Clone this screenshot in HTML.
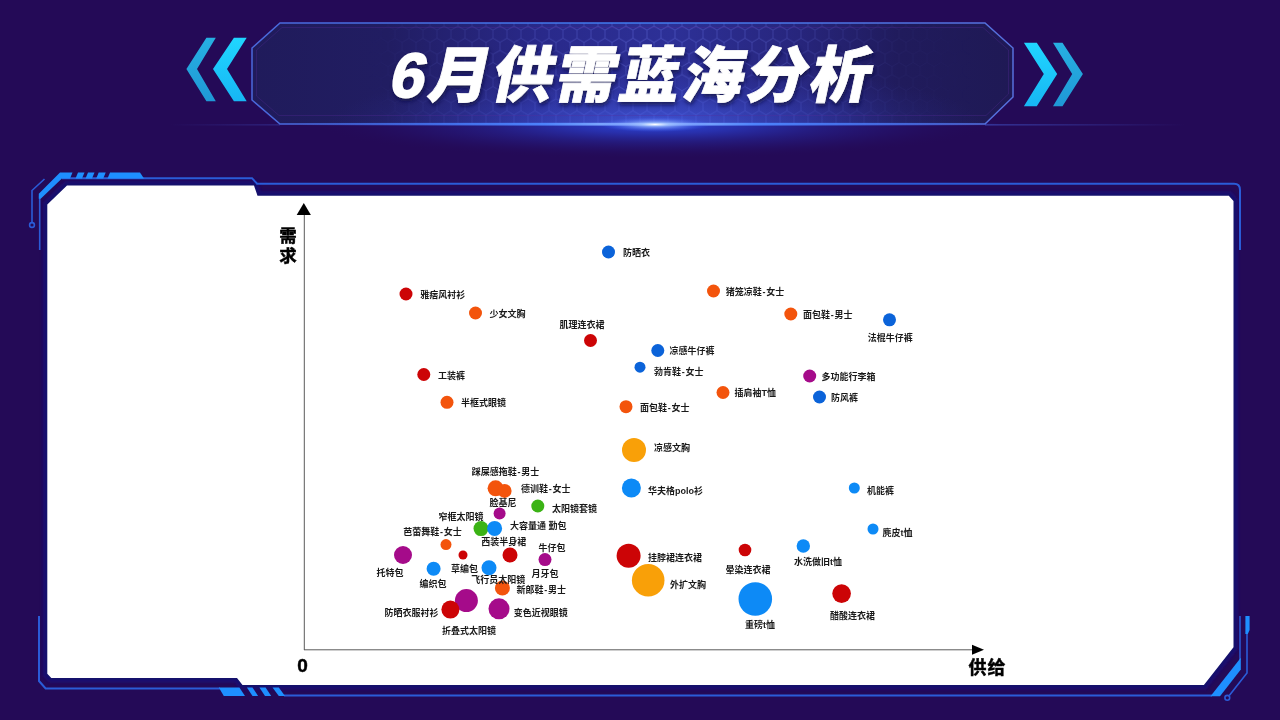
<!DOCTYPE html>
<html lang="zh-CN">
<head>
<meta charset="utf-8">
<title>6月供需蓝海分析</title>
<style>
html,body{margin:0;padding:0;background:#240a57;}
body{width:1280px;height:720px;overflow:hidden;position:relative;font-family:"Liberation Sans","Noto Sans CJK SC",sans-serif;}
svg{position:absolute;left:0;top:0;display:block}
text{font-family:"Liberation Sans","Noto Sans CJK SC",sans-serif;}
.lb text{font-size:9px;font-weight:700;fill:#1a1a1a;}
.ax{font-size:18px;font-weight:700;fill:#000;stroke:#000;stroke-width:0.45px;}
.title{font-family:"Liberation Sans","Noto Sans CJK SC",sans-serif;font-weight:900;font-size:61px;fill:#fff;stroke:#fff;stroke-width:0.7px;stroke-linejoin:miter;letter-spacing:2.5px}
</style>
</head>
<body>
<svg width="1280" height="720" viewBox="0 0 1280 720">
<defs>
<linearGradient id="bn" x1="0" x2="1" y1="0" y2="0">
<stop offset="0" stop-color="#201b5b"/><stop offset="0.18" stop-color="#211d62"/><stop offset="0.38" stop-color="#29298a"/><stop offset="0.55" stop-color="#2d3097"/><stop offset="0.72" stop-color="#27257c"/><stop offset="0.85" stop-color="#201b5c"/><stop offset="1" stop-color="#1f1955"/>
</linearGradient>
<radialGradient id="bnv" gradientUnits="userSpaceOnUse" cx="655" cy="128" r="330" gradientTransform="translate(655 128) scale(1 0.2) translate(-655 -128)">
<stop offset="0" stop-color="#4a66f0" stop-opacity="0.75"/><stop offset="0.5" stop-color="#3a4cd0" stop-opacity="0.35"/><stop offset="1" stop-color="#2d3097" stop-opacity="0"/>
</radialGradient>
<linearGradient id="bst" x1="0" x2="1" y1="0" y2="0">
<stop offset="0" stop-color="#4a68dc"/><stop offset="0.5" stop-color="#3f7cf0"/><stop offset="1" stop-color="#566fdc"/>
</linearGradient>
<radialGradient id="glow" gradientUnits="userSpaceOnUse" cx="655" cy="125" r="340" gradientTransform="translate(655 125) scale(1 0.1) translate(-655 -125)">
<stop offset="0" stop-color="#2c48e0" stop-opacity="0.95"/><stop offset="0.25" stop-color="#2a40d0" stop-opacity="0.7"/><stop offset="0.5" stop-color="#2634b8" stop-opacity="0.4"/><stop offset="0.75" stop-color="#2428a0" stop-opacity="0.15"/><stop offset="1" stop-color="#240a57" stop-opacity="0"/>
</radialGradient>
<radialGradient id="flare" cx="0.5" cy="0.5" r="0.5">
<stop offset="0" stop-color="#ffffff" stop-opacity="1"/><stop offset="0.25" stop-color="#9fc0ff" stop-opacity="0.8"/><stop offset="1" stop-color="#3a60ff" stop-opacity="0"/>
</radialGradient>
<linearGradient id="line" x1="0" x2="1" y1="0" y2="0">
<stop offset="0" stop-color="#3a6cff" stop-opacity="0"/><stop offset="0.35" stop-color="#4f86ff" stop-opacity="0.9"/><stop offset="0.5" stop-color="#a8c8ff" stop-opacity="1"/><stop offset="0.65" stop-color="#4f86ff" stop-opacity="0.9"/><stop offset="1" stop-color="#3a6cff" stop-opacity="0"/>
</linearGradient>
<linearGradient id="fl2" x1="0" x2="1" y1="0" y2="0"><stop offset="0" stop-color="#4a6cf0" stop-opacity="0.4"/><stop offset="1" stop-color="#4a6cf0" stop-opacity="0"/></linearGradient>
<linearGradient id="fl3" x1="0" x2="1" y1="0" y2="0"><stop offset="0" stop-color="#4a6cf0" stop-opacity="0"/><stop offset="1" stop-color="#4a6cf0" stop-opacity="0.22"/></linearGradient>
<linearGradient id="ch1" x1="0" x2="0" y1="0" y2="1"><stop offset="0" stop-color="#20d6ff"/><stop offset="1" stop-color="#17b6f4"/></linearGradient>
<linearGradient id="ch2" x1="0" x2="0" y1="0" y2="1"><stop offset="0" stop-color="#27b0e2"/><stop offset="1" stop-color="#1f98d6"/></linearGradient>
<pattern id="hex" width="14" height="24.2" patternUnits="userSpaceOnUse" patternTransform="translate(3 2)">
<path d="M0 4.03 L7 0 L14 4.03 M0 4.03 L0 12.1 M14 4.03 L14 12.1 M0 12.1 L7 16.13 L14 12.1 M7 16.13 L7 24.2" fill="none" stroke="#7f8cff" stroke-opacity="0.3" stroke-width="1"/>
</pattern>
<linearGradient id="hexfade" x1="0" x2="1" y1="0" y2="0">
<stop offset="0.15" stop-color="#fff" stop-opacity="0"/><stop offset="0.32" stop-color="#fff" stop-opacity="0.6"/><stop offset="0.5" stop-color="#fff" stop-opacity="1"/><stop offset="0.68" stop-color="#fff" stop-opacity="0.8"/><stop offset="0.85" stop-color="#fff" stop-opacity="0.15"/><stop offset="0.95" stop-color="#fff" stop-opacity="0"/>
</linearGradient>
<mask id="hexmask"><rect x="252" y="23" width="761" height="101" fill="url(#hexfade)"/></mask>
<filter id="pg" x="-2%" y="-4%" width="104%" height="108%"><feGaussianBlur stdDeviation="1.6"/></filter>
<filter id="ts" x="-5%" y="-20%" width="110%" height="150%"><feDropShadow dx="1" dy="3" stdDeviation="2.2" flood-color="#0a0a40" flood-opacity="0.75"/></filter>
</defs>

<!-- glow under banner -->
<ellipse cx="655" cy="125" rx="340" ry="34" fill="url(#glow)"/>

<!-- banner -->
<path id="bp" d="M280 23 L985 23 L1013 48 L1013 97 L985 124 L280 124 L252 100 L252 48 Z" fill="url(#bn)"/>
<path d="M280 23 L985 23 L1013 48 L1013 97 L985 124 L280 124 L252 100 L252 48 Z" fill="url(#hex)" mask="url(#hexmask)"/>
<path d="M280 23 L985 23 L1013 48 L1013 97 L985 124 L280 124 L252 100 L252 48 Z" fill="url(#bnv)"/>
<path d="M280 23 L985 23 L1013 48 L1013 97 L985 124 L280 124 L252 100 L252 48 Z" fill="none" stroke="url(#bst)" stroke-width="1.5"/>
<path d="M282 27.5 L983 27.5 L1008.5 50 L1008.5 94 L986 115.5 L279 115.5 L256.5 96 L256.5 50 Z" fill="none" stroke="#5a2a9a" stroke-opacity="0.3" stroke-width="1"/>
<rect x="300" y="122.8" width="700" height="2.8" fill="url(#line)"/>
<ellipse cx="655" cy="124.5" rx="56" ry="7.5" fill="url(#flare)"/>

<rect x="985" y="124" width="200" height="1.6" fill="url(#fl2)"/>
<rect x="170" y="124" width="110" height="1.6" fill="url(#fl3)"/>
<!-- chevrons -->
<path d="M206.4 37.8 L215.8 37.8 L197 69 L215.8 101.2 L206.4 101.2 L186.4 69 Z" fill="url(#ch2)"/>
<path d="M233.9 37.8 L246.7 37.8 L227 69 L246.7 101.2 L233.9 101.2 L213 69 Z" fill="url(#ch1)"/>
<path d="M1023.9 42.8 L1036.8 42.8 L1057.2 74 L1036.8 106.2 L1023.9 106.2 L1043.8 74 Z" fill="url(#ch1)"/>
<path d="M1053 42.8 L1062.5 42.8 L1082.9 74 L1062.5 106.2 L1053 106.2 L1072.2 74 Z" fill="url(#ch2)"/>

<!-- title -->
<g filter="url(#ts)"><text class="title" transform="translate(628 96.5) skewX(-12)" text-anchor="middle" x="0" y="0"><tspan dx="1" style="font-size:63px;stroke-width:1.6px">6</tspan><tspan dx="1">月供需蓝海分析</tspan></text></g>

<!-- frame -->
<path d="M67 185.6 L254 185.6 L257.5 195.8 L1228.8 195.8 L1233.5 201 L1233.5 647.3 L1203.9 685.1 L242.5 685.1 L237 677.9 L51.3 677.9 L47.3 673.8 L47.3 204.4 Z" fill="none" stroke="#151078" stroke-width="9" stroke-linejoin="miter" filter="url(#pg)" opacity="0.8"/>
<g fill="none" stroke="#2a5cd8" stroke-width="1.6">
<path d="M44.5 179 L32 190.5 L32 222"/>
<circle cx="32" cy="225" r="2.4"/>
<path d="M39.7 250 L39.7 196"/>
<path d="M62 178.2 L252 178.2 L257 183.7 L1234 183.7 Q1240 183.7 1240 190 L1240 250" stroke-width="2"/>
<path d="M39 616 L39 681 L45.6 688.5 L220 688.5" stroke-width="2"/>
<path d="M284 695.6 L1212 695.6" stroke-width="2"/>
<path d="M1240 616 L1240 660" stroke-width="1.5"/>
<path d="M1247 632 L1247 673 L1229.3 695.6"/>
<circle cx="1227.3" cy="697.8" r="2.4"/>
</g>
<g fill="#1e8fff">
<path d="M60 172.5 L72.5 172.5 L70 178.5 L61.9 178.5 L40.7 198.8 L38.8 198.8 L38.8 193.8 Z"/>
<path d="M78 172.5 L84.5 172.5 L82 178.5 L75.5 178.5 Z"/>
<path d="M88 172.5 L94.5 172.5 L92 178.5 L85.5 178.5 Z"/>
<path d="M98.7 172.5 L105.7 172.5 L103.2 178.5 L96.2 178.5 Z"/>
<path d="M110 172.5 L140 172.5 L144 178.5 L107.5 178.5 Z"/>
<path d="M218.8 687.5 L239.4 687.5 L245 696 L223.8 696 Z"/>
<path d="M246.9 687.5 L252.5 687.5 L258.1 696 L252.5 696 Z"/>
<path d="M259.4 687.5 L265.6 687.5 L271.2 696 L265 696 Z"/>
<path d="M272.5 687.5 L278.8 687.5 L285 696 L278.8 696 Z"/>
<path d="M1240.8 657.8 L1240.8 669.4 L1220 696.3 L1210.5 696.3 Z"/>
<path d="M1245.4 616 L1249.6 616 L1249.6 630 L1247.8 634 L1245.4 634 Z"/>
</g>

<!-- white panel -->
<path d="M67 185.6 L254 185.6 L257.5 195.8 L1228.8 195.8 L1233.5 201 L1233.5 647.3 L1203.9 685.1 L242.5 685.1 L237 677.9 L51.3 677.9 L47.3 673.8 L47.3 204.4 Z" fill="#fff" stroke="#15116c" stroke-width="4" stroke-linejoin="miter"/>
<path d="M67 185.6 L254 185.6 L257.5 195.8 L1228.8 195.8 L1233.5 201 L1233.5 647.3 L1203.9 685.1 L242.5 685.1 L237 677.9 L51.3 677.9 L47.3 673.8 L47.3 204.4 Z" fill="#fff"/>

<!-- axes -->
<g stroke="#5a5a5a" stroke-width="1" fill="none">
<path d="M304.3 214 L304.3 650"/>
<path d="M304 649.8 L973 649.8"/>
</g>
<path d="M303.8 203 L310.9 215 L296.7 215 Z" fill="#000"/>
<path d="M984 649.8 L972 644.8 L972 654.8 Z" fill="#000"/>
<text class="ax" x="288" y="242.3" text-anchor="middle" style="font-size:17.5px">需</text>
<text class="ax" x="288" y="261.5" text-anchor="middle" style="font-size:17.5px">求</text>
<text class="ax" x="987.4" y="674" text-anchor="middle" style="letter-spacing:0.8px">供给</text>
<text class="ax" x="302.6" y="671.8" text-anchor="middle" style="font-size:19px">0</text>

<circle cx="608.5" cy="252" r="6.5" fill="#0b63d9"/>
<circle cx="406" cy="294" r="6.5" fill="#cc0406"/>
<circle cx="475.5" cy="313" r="6.5" fill="#f3540c"/>
<circle cx="590.5" cy="340.5" r="6.5" fill="#cc0406"/>
<circle cx="713.5" cy="291" r="6.5" fill="#f3540c"/>
<circle cx="790.8" cy="314" r="6.5" fill="#f3540c"/>
<circle cx="889.5" cy="319.8" r="6.5" fill="#0b63d9"/>
<circle cx="657.8" cy="350.5" r="6.5" fill="#0b63d9"/>
<circle cx="640" cy="367.2" r="5.5" fill="#0b63d9"/>
<circle cx="423.8" cy="374.5" r="6.5" fill="#cc0406"/>
<circle cx="809.7" cy="376" r="6.5" fill="#a50b8a"/>
<circle cx="723" cy="392.5" r="6.5" fill="#f3540c"/>
<circle cx="819.5" cy="397" r="6.5" fill="#0b63d9"/>
<circle cx="447" cy="402.3" r="6.5" fill="#f3540c"/>
<circle cx="626" cy="406.7" r="6.5" fill="#f3540c"/>
<circle cx="634" cy="450" r="12" fill="#f9a008"/>
<circle cx="631.4" cy="488" r="9.5" fill="#0d8af6"/>
<circle cx="854.3" cy="488" r="5.5" fill="#0d8af6"/>
<circle cx="873" cy="529" r="5.5" fill="#0d8af6"/>
<circle cx="803.3" cy="546" r="6.7" fill="#0d8af6"/>
<circle cx="745" cy="550" r="6.3" fill="#cc0406"/>
<circle cx="628.6" cy="555.7" r="12" fill="#cc0406"/>
<circle cx="648.2" cy="580.2" r="16.3" fill="#f9a008"/>
<circle cx="755.3" cy="599" r="16.8" fill="#0d8af6"/>
<circle cx="841.6" cy="593.6" r="9.3" fill="#cc0406"/>
<circle cx="495.6" cy="488.3" r="8" fill="#f3540c"/>
<circle cx="504.6" cy="490.9" r="7" fill="#f3540c"/>
<circle cx="499.6" cy="513.6" r="6" fill="#a50b8a"/>
<circle cx="537.8" cy="506" r="6.5" fill="#3bb315"/>
<circle cx="481" cy="528.6" r="7.5" fill="#3bb315"/>
<circle cx="494.6" cy="528.4" r="7.5" fill="#0d8af6"/>
<circle cx="446" cy="544.6" r="5.5" fill="#f3540c"/>
<circle cx="510" cy="555" r="7.5" fill="#cc0406"/>
<circle cx="545" cy="559.6" r="6.5" fill="#a50b8a"/>
<circle cx="403" cy="555" r="9" fill="#a50b8a"/>
<circle cx="463" cy="555" r="4.5" fill="#cc0406"/>
<circle cx="433.6" cy="568.8" r="7" fill="#0d8af6"/>
<circle cx="489" cy="567.8" r="7.5" fill="#0d8af6"/>
<circle cx="502.4" cy="588" r="7.5" fill="#f3540c"/>
<circle cx="466.4" cy="600.6" r="11.5" fill="#a50b8a"/>
<circle cx="450.4" cy="609.6" r="9" fill="#cc0406"/>
<circle cx="499" cy="608.8" r="10.5" fill="#a50b8a"/>
<g class="lb">
<text x="623" y="256" text-anchor="start">防晒衣</text>
<text x="420.2" y="298" text-anchor="start">雅痞风衬衫</text>
<text x="489.5" y="317" text-anchor="start">少女文胸</text>
<text x="582" y="328.3" text-anchor="middle">肌理连衣裙</text>
<text x="725.7" y="294.6" text-anchor="start">猪笼凉鞋<tspan dx="0.8">-</tspan><tspan dx="0.8">女士</tspan></text>
<text x="803" y="317.5" text-anchor="start">面包鞋<tspan dx="0.8">-</tspan><tspan dx="0.8">男士</tspan></text>
<text x="890.3" y="340.8" text-anchor="middle">法棍牛仔裤</text>
<text x="669.5" y="354" text-anchor="start">凉感牛仔裤</text>
<text x="654" y="375" text-anchor="start">勃肯鞋<tspan dx="0.8">-</tspan><tspan dx="0.8">女士</tspan></text>
<text x="438" y="378.6" text-anchor="start">工装裤</text>
<text x="821.4" y="379.5" text-anchor="start">多功能行李箱</text>
<text x="734.5" y="395.8" text-anchor="start">插肩袖T恤</text>
<text x="831" y="400.8" text-anchor="start">防风裤</text>
<text x="461" y="406.3" text-anchor="start">半框式眼镜</text>
<text x="640" y="410.5" text-anchor="start">面包鞋<tspan dx="0.8">-</tspan><tspan dx="0.8">女士</tspan></text>
<text x="654" y="451.2" text-anchor="start">凉感文胸</text>
<text x="648" y="493.8" text-anchor="start">华夫格polo衫</text>
<text x="867" y="493.8" text-anchor="start">机能裤</text>
<text x="882.6" y="535.8" text-anchor="start">麂皮t恤</text>
<text x="818" y="565.2" text-anchor="middle">水洗做旧t恤</text>
<text x="748" y="572.8" text-anchor="middle">晕染连衣裙</text>
<text x="648" y="560.8" text-anchor="start">挂脖裙连衣裙</text>
<text x="670" y="587.8" text-anchor="start">外扩文胸</text>
<text x="760" y="628.2" text-anchor="middle">重磅t恤</text>
<text x="852.6" y="619.2" text-anchor="middle">醋酸连衣裙</text>
<text x="505.5" y="475.4" text-anchor="middle">踩屎感拖鞋<tspan dx="0.8">-</tspan><tspan dx="0.8">男士</tspan></text>
<text x="521" y="491.8" text-anchor="start">德训鞋<tspan dx="0.8">-</tspan><tspan dx="0.8">女士</tspan></text>
<text x="503" y="506.4" text-anchor="middle">脸基尼</text>
<text x="552" y="511.9" text-anchor="start">太阳镜套镜</text>
<text x="461" y="520" text-anchor="middle">窄框太阳镜</text>
<text x="510" y="528.9" text-anchor="start">大容量通 勤包</text>
<text x="432.5" y="535.4" text-anchor="middle">芭蕾舞鞋<tspan dx="0.8">-</tspan><tspan dx="0.8">女士</tspan></text>
<text x="503.8" y="545.3" text-anchor="middle">西装半身裙</text>
<text x="552" y="550.7" text-anchor="middle">牛仔包</text>
<text x="390" y="576.2" text-anchor="middle">托特包</text>
<text x="464.6" y="572.2" text-anchor="middle">草编包</text>
<text x="433.1" y="587.3" text-anchor="middle">编织包</text>
<text x="498.3" y="583.3" text-anchor="middle">飞行员太阳镜</text>
<text x="545" y="577.2" text-anchor="middle">月牙包</text>
<text x="516.5" y="592.8" text-anchor="start">新郎鞋<tspan dx="0.8">-</tspan><tspan dx="0.8">男士</tspan></text>
<text x="469" y="634.3" text-anchor="middle">折叠式太阳镜</text>
<text x="438.5" y="615.8" text-anchor="end">防晒衣服衬衫</text>
<text x="513.7" y="615.8" text-anchor="start">变色近视眼镜</text>
</g>
</svg>
</body>
</html>
